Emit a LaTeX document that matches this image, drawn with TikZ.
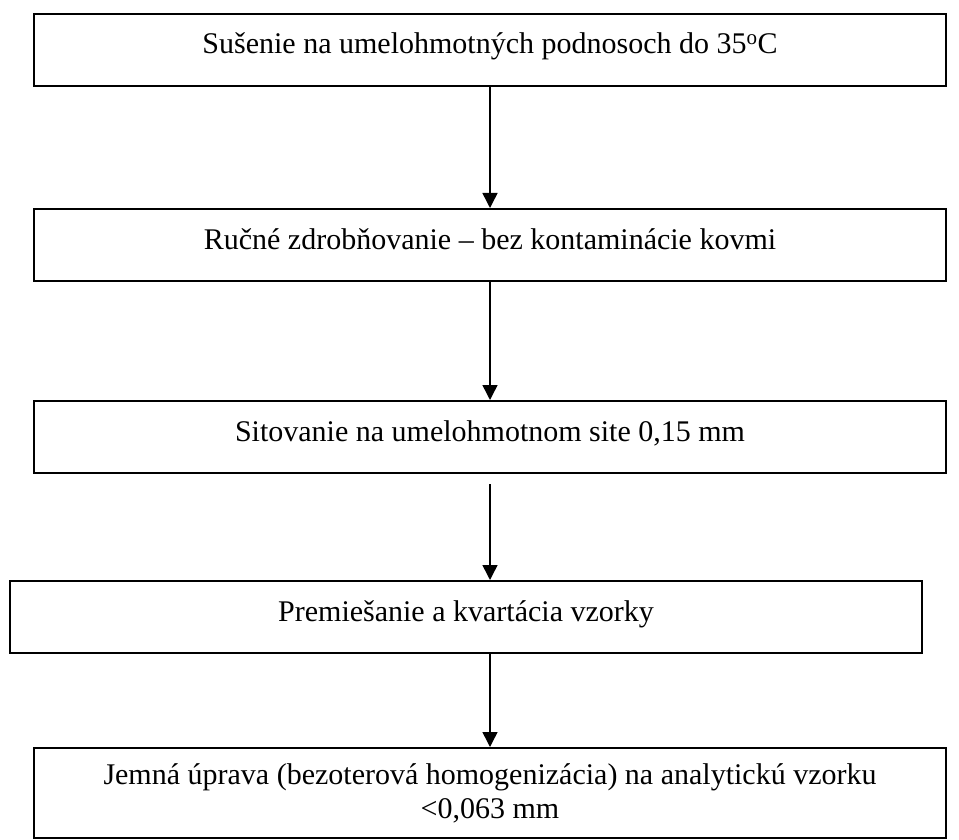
\documentclass[tikz,border=0pt]{standalone}
\usepackage{fontspec}
\setmainfont{Liberation Serif}
\usetikzlibrary{arrows.meta}

\begin{document}
\begin{tikzpicture}[x=1pt,y=1pt,
	stepbox/.style={draw, line width=2pt, minimum width=912pt, inner sep=0pt,
		text height=40pt, text depth=32pt, font=\fontsize{30}{34}\selectfont},
	flow/.style={line width=1.5pt, -{Triangle[width=15pt,length=15pt]}}]
	\useasboundingbox (0,0) rectangle (959,-840);
	\node[stepbox] (dry) at (490,-50) {Sušenie na umelohmotných podnosoch do 35\textsuperscript{o}C};
	\node[stepbox] (crush) at (490,-245) {Ručné zdrobňovanie – bez kontaminácie kovmi};
	\node[stepbox] (sieve) at (490,-437) {Sitovanie na umelohmotnom site 0,15 mm};
	\node[stepbox] (mix) at (466,-617) {Premiešanie a kvartácia vzorky};
	\node[stepbox, text height=, text depth=, minimum height=90pt, align=center] (fine) at (490,-793)
		{Jemná úprava (bezoterová homogenizácia) na analytickú vzorku\\<0,063 mm};
	\draw[flow] (dry) -- (crush);
	\draw[flow] (crush) -- (sieve);
	\draw[flow] ([yshift=-10pt]sieve.south) -- (mix.north -| sieve.south);
	\draw[flow] (mix.south -| fine.north) -- (fine);
\end{tikzpicture}
\end{document}
